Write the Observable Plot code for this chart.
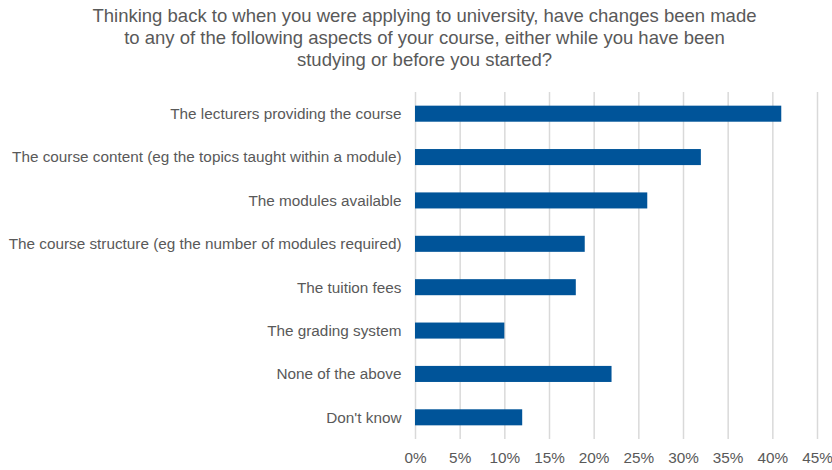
<!DOCTYPE html>
<html>
<head>
<meta charset="utf-8">
<script src="https://cdn.jsdelivr.net/npm/d3@7"></script>
<script src="https://cdn.jsdelivr.net/npm/@observablehq/plot@0.6"></script>
<style>
  html, body { margin: 0; padding: 0; background: #fff; }
  #wrap { width: 832px; height: 470px; position: relative; font-family: "Liberation Sans", Arial, sans-serif; }
  #title { position: absolute; left: 0; top: 5px; width: 849px; text-align: center; color: #595959; font-size: 18.5px; line-height: 22px; }
  #chart { position: absolute; left: 0; top: 85px; }
</style>
</head>
<body>
<div id="wrap">
  <div id="title">Thinking back to when you were applying to university, have changes been made<br>to any of the following aspects of your course, either while you have been<br>studying or before you started?</div>
  <div id="chart"></div>
</div>
<script>
const categories = [
  "The lecturers providing the course",
  "The course content (eg the topics taught within a module)",
  "The modules available",
  "The course structure (eg the number of modules required)",
  "The tuition fees",
  "The grading system",
  "None of the above",
  "Don't know"
];
const values = [41, 32, 26, 19, 18, 10, 22, 12];
const xTicks = [0, 5, 10, 15, 20, 25, 30, 35, 40, 45];

const data = categories.map((c, i) => ({category: c, value: values[i]}));

const chart = Plot.plot({
  width: 832,
  height: 385,
  marginLeft: 415,
  marginRight: 15,
  marginTop: 7,
  marginBottom: 31,
  style: {fontFamily: "Liberation Sans, Arial, sans-serif", fontSize: "15.3px", color: "#595959", background: "#fff"},
  x: {domain: [0, 45], ticks: xTicks, tickFormat: d => d + "%", tickSize: 0, tickPadding: 13, label: null},
  y: {domain: categories, paddingInner: 0.63, paddingOuter: 0.315, round: false, tickSize: 0, tickPadding: 14, label: null},
  marks: [
    Plot.ruleX(xTicks, {stroke: "#d9d9d9", strokeWidth: 1.5}),
    Plot.barX(data, {x: "value", y: "category", fill: "#005499"})
  ]
});
document.getElementById("chart").appendChild(chart);
</script>
</body>
</html>
